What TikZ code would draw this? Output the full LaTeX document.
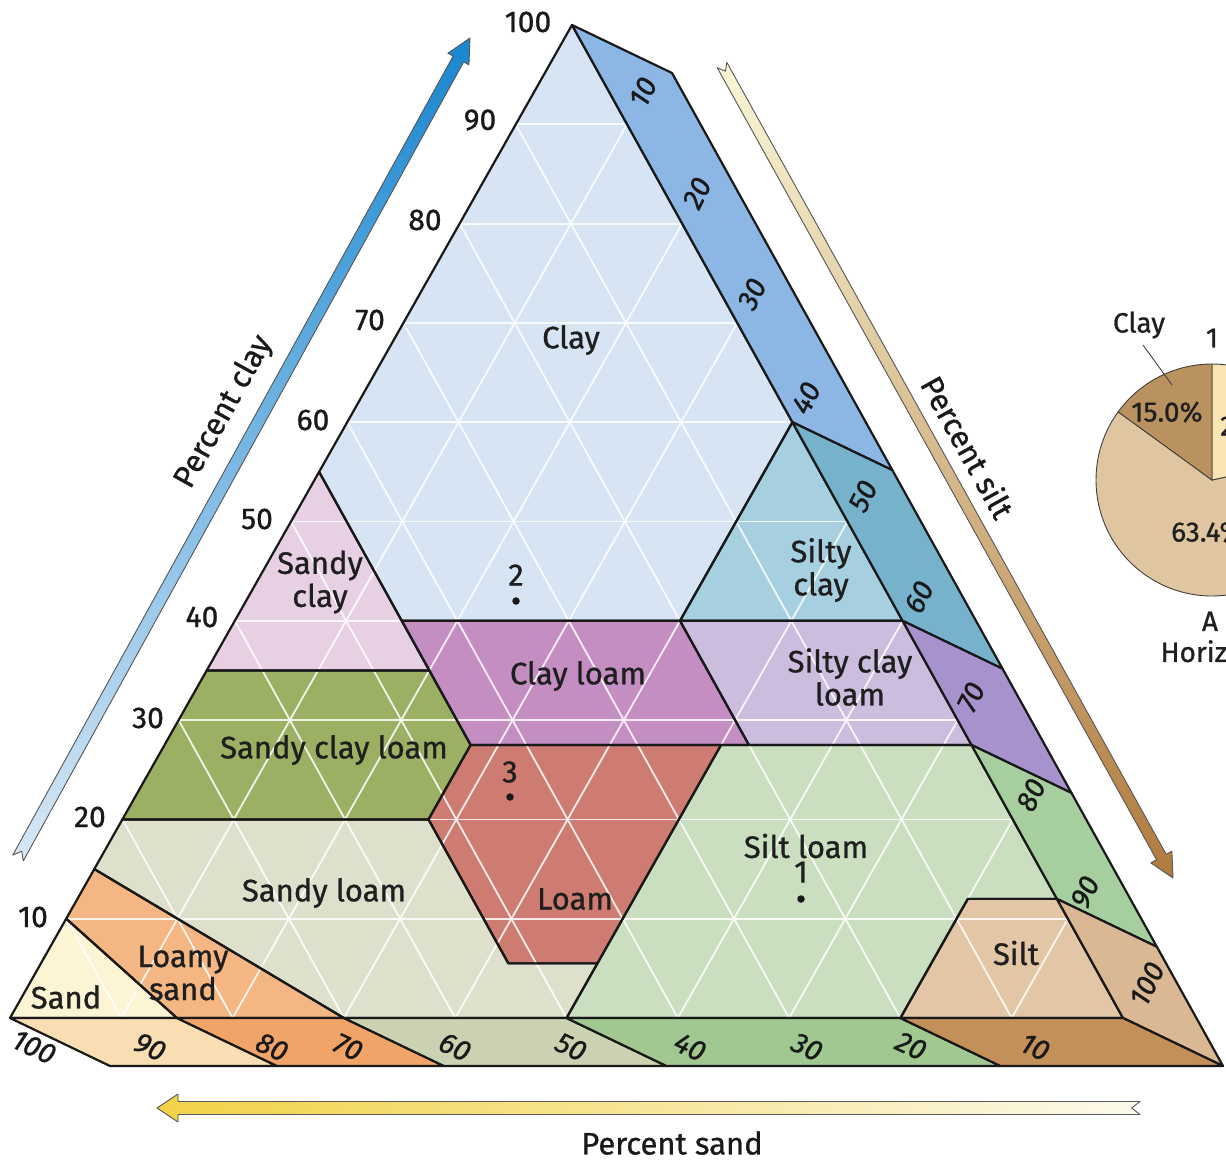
\documentclass[tikz,border=0pt]{standalone}
\usepackage{fontspec}
\setmainfont{Fira Sans}[FakeBold=0.9]
% region fills
\definecolor{cClay}{RGB}{214,228,244}
\definecolor{cSandyClay}{RGB}{232,208,228}
\definecolor{cSiltyClay}{RGB}{166,208,224}
\definecolor{cClayLoam}{RGB}{196,142,194}
\definecolor{cSiltyClayLoam}{RGB}{204,188,222}
\definecolor{cSandyClayLoam}{RGB}{156,176,100}
\definecolor{cLoam}{RGB}{206,124,114}
\definecolor{cSiltLoam}{RGB}{202,222,192}
\definecolor{cSandyLoam}{RGB}{222,224,204}
\definecolor{cLoamySand}{RGB}{244,182,130}
\definecolor{cSand}{RGB}{253,244,212}
\definecolor{cSilt}{RGB}{226,198,166}
% right (silt) strip
\definecolor{sClay}{RGB}{140,182,228}
\definecolor{sSiltyClay}{RGB}{118,178,204}
\definecolor{sSCL}{RGB}{168,146,206}
\definecolor{sSiltLoam}{RGB}{166,206,158}
\definecolor{sSilt}{RGB}{218,184,148}
% bottom (sand) strip
\definecolor{bSand}{RGB}{248,222,178}
\definecolor{bLoamySand}{RGB}{240,164,104}
\definecolor{bSandyLoam}{RGB}{202,210,178}
\definecolor{bSiltLoam}{RGB}{160,200,144}
\definecolor{bSilt}{RGB}{196,144,90}
% pie
\definecolor{pClay}{RGB}{186,146,96}
\definecolor{pBig}{RGB}{224,198,160}
\definecolor{pRight}{RGB}{250,230,180}
% ternary point (clay, sand) in pixel coordinates, and the same shifted onto the extruded face
\newcommand\tpt[2]{({(#2)*0.1+(100-(#1)-(#2))*11.23+(#1)*5.72},{1018-9.93*(#1)})}
\newcommand\tpo[2]{({(#2)*0.1+(100-(#1)-(#2))*11.23+(#1)*5.72+100},{1018-9.93*(#1)+48})}
% fat arrow: tail x,y ; head x,y ; half shaft ; half head ; head length ; style
\newcommand\fatarrow[8]{%
  \pgfmathsetmacro\arlen{veclen((#3-#1)/100,(#4-#2)/100)*100}%
  \pgfmathsetmacro\arux{(#3-#1)/\arlen}%
  \pgfmathsetmacro\aruy{(#4-#2)/\arlen}%
  \pgfmathsetmacro\arnx{-\aruy}%
  \pgfmathsetmacro\arny{\arux}%
  \pgfmathsetmacro\arb{\arlen-#7}%
  \filldraw[#8] ({#1+#5*\arnx},{#2+#5*\arny})
    -- ({#1+\arb*\arux+#5*\arnx},{#2+\arb*\aruy+#5*\arny})
    -- ({#1+\arb*\arux+#6*\arnx},{#2+\arb*\aruy+#6*\arny})
    -- (#3,#4)
    -- ({#1+\arb*\arux-#6*\arnx},{#2+\arb*\aruy-#6*\arny})
    -- ({#1+\arb*\arux-#5*\arnx},{#2+\arb*\aruy-#5*\arny})
    -- ({#1-#5*\arnx},{#2-#5*\arny})
    -- ({#1+1.3*#5*\arux},{#2+1.3*#5*\aruy}) -- cycle;}
% region outlines
\newcommand\rgClay{\tpt{100}{0} -- \tpt{55}{45} -- \tpt{40}{45} -- \tpt{40}{20} -- \tpt{60}{0} -- cycle}
\newcommand\rgSandyClay{\tpt{55}{45} -- \tpt{35}{65} -- \tpt{35}{45} -- cycle}
\newcommand\rgSiltyClay{\tpt{60}{0} -- \tpt{40}{20} -- \tpt{40}{0} -- cycle}
\newcommand\rgClayLoam{\tpt{40}{45} -- \tpt{40}{20} -- \tpt{27.5}{20} -- \tpt{27.5}{45} -- cycle}
\newcommand\rgSiltyClayLoam{\tpt{40}{20} -- \tpt{40}{0} -- \tpt{27.5}{0} -- \tpt{27.5}{20} -- cycle}
\newcommand\rgSandyClayLoam{\tpt{35}{65} -- \tpt{35}{45} -- \tpt{27.5}{45} -- \tpt{20}{52.5} -- \tpt{20}{80} -- cycle}
\newcommand\rgLoam{\tpt{27.5}{45} -- \tpt{27.5}{22.5} -- \tpt{5.5}{44.5} -- \tpt{5.5}{52.5} -- \tpt{20}{52.5} -- cycle}
\newcommand\rgSiltLoam{\tpt{27.5}{22.5} -- \tpt{27.5}{0} -- \tpt{12}{0} -- \tpt{12}{8} -- \tpt{0}{20} -- \tpt{0}{50} -- \tpt{5.5}{44.5} -- cycle}
\newcommand\rgSilt{\tpt{12}{0} -- \tpt{0}{0} -- \tpt{0}{20} -- \tpt{12}{8} -- cycle}
\newcommand\rgSandyLoam{\tpt{20}{80} -- \tpt{20}{52.5} -- \tpt{5.5}{52.5} -- \tpt{5.5}{44.5} -- \tpt{0}{50} -- \tpt{0}{70} -- \tpt{15}{85} -- cycle}
\newcommand\rgLoamySand{\tpt{15}{85} -- \tpt{0}{70} -- \tpt{0}{85} -- \tpt{10}{90} -- cycle}
\newcommand\rgSand{\tpt{10}{90} -- \tpt{0}{85} -- \tpt{0}{100} -- cycle}
\begin{document}
\begin{tikzpicture}[x=1pt,y=-1pt,
  region/.style={draw=black!90, line width=2.2pt, line join=round},
  gridline/.style={white, line width=1.8pt, opacity=0.85},
  lab/.style={font=\fontsize{31}{33}\selectfont, text=black!88, align=center, inner sep=0pt},
  num/.style={font=\fontsize{30}{32}\selectfont, text=black!90, inner sep=0pt},
  snum/.style={num, font=\fontsize{29}{31}\selectfont\itshape, rotate=64},
  bnum/.style={num, font=\fontsize{29}{31}\selectfont\itshape, rotate=-25},
  title/.style={font=\fontsize{31}{33}\selectfont, text=black!90, inner sep=0pt},
  pietext/.style={font=\fontsize{28}{31}\selectfont, text=black!88, align=center, inner sep=0pt},
  sample/.style={circle, fill=black!90, inner sep=0pt, minimum size=7.5pt},
  arrowline/.style={draw=black!65, line width=0.9pt, line join=round}]
\useasboundingbox (0,0) rectangle (1226,1162);
\clip (0,0) rectangle (1226,1162);

% ---------- region fills ----------
\fill[cClay] \rgClay;
\fill[cSandyClay] \rgSandyClay;
\fill[cSiltyClay] \rgSiltyClay;
\fill[cClayLoam] \rgClayLoam;
\fill[cSiltyClayLoam] \rgSiltyClayLoam;
\fill[cSandyClayLoam] \rgSandyClayLoam;
\fill[cLoam] \rgLoam;
\fill[cSiltLoam] \rgSiltLoam;
\fill[cSilt] \rgSilt;
\fill[cSandyLoam] \rgSandyLoam;
\fill[cLoamySand] \rgLoamySand;
\fill[cSand] \rgSand;

% ---------- white grid ----------
\foreach \k in {10,20,...,90} {
  \draw[gridline] \tpt{\k}{100-\k} -- \tpt{\k}{0};
  \draw[gridline] \tpt{0}{\k} -- \tpt{100-\k}{\k};
  \draw[gridline] \tpt{0}{100-\k} -- \tpt{100-\k}{0};
}

% ---------- region boundaries ----------
\draw[region] \rgClay;
\draw[region] \rgSandyClay;
\draw[region] \rgSiltyClay;
\draw[region] \rgClayLoam;
\draw[region] \rgSiltyClayLoam;
\draw[region] \rgSandyClayLoam;
\draw[region] \rgLoam;
\draw[region] \rgSiltLoam;
\draw[region] \rgSilt;
\draw[region] \rgSandyLoam;
\draw[region] \rgLoamySand;
\draw[region] \rgSand;

% ---------- extruded scale strips ----------
\foreach \a/\b/\col in {100/60/sClay, 60/40/sSiltyClay, 40/27.5/sSCL, 27.5/12/sSiltLoam, 12/0/sSilt}
  \filldraw[fill=\col, region] \tpt{\a}{0} -- \tpt{\b}{0} -- \tpo{\b}{0} -- \tpo{\a}{0} -- cycle;
\foreach \a/\b/\col in {100/85/bSand, 85/70/bLoamySand, 70/50/bSandyLoam, 50/20/bSiltLoam, 20/0/bSilt}
  \filldraw[fill=\col, region] \tpt{0}{\a} -- \tpt{0}{\b} -- \tpo{0}{\b} -- \tpo{0}{\a} -- cycle;

% ---------- class labels ----------
\node[lab] (tClay) at (571,340) {Clay};
\node[lab] (tSandyClay) at (320,582) {Sandy\\clay};
\node[lab] (tSiltyClay) at (821,570) {Silty\\clay};
\node[lab] (tClayLoam) at (578,676) {Clay loam};
\node[lab] (tSiltyClayLoam) at (850,677) {Silty clay\\loam};
\node[lab] (tSandyClayLoam) at (334,750) {Sandy clay loam};
\node[lab] (tSiltLoam) at (806,846) {Silt loam};
\node[lab] (tSandyLoam) at (324,893) {Sandy loam};
\node[lab] (tLoam) at (575,899) {Loam};
\node[lab] (tLoamySand) at (183,973) {Loamy\\sand};
\node[lab] (tSand) at (66,997) {Sand};
\node[lab] (tSilt) at (1016,953) {Silt};

% ---------- samples ----------
\node[lab] (n2) at (516,575) {2};
\node[sample] (s2) at (516,601) {};
\node[lab] (n3) at (510,772) {3};
\node[sample] (s3) at (510,797) {};
\node[lab] (n1) at (801,872) {1};
\node[sample] (s1) at (801,899) {};

% ---------- clay scale ----------
\foreach \v/\px/\py in {100/528/22, 90/480/120, 80/425/220, 70/370/320, 60/313/420, 50/257/519, 40/202/617, 30/148/718, 20/90/817, 10/33/917}
  \node[num] (c\v) at (\px,\py) {\v};

% ---------- silt scale ----------
\foreach \v/\px/\py in {10/643/92, 20/697/193, 30/752/294, 40/806/398, 50/863/496, 60/919/597, 70/971/697, 80/1031/795, 90/1085/892, 100/1147/984}
  \node[snum] (t\v) at (\px,\py) {\v};

% ---------- sand scale ----------
\foreach \v/\px/\py in {100/34/1047, 90/150/1047, 80/272/1047, 70/348/1047, 60/455/1047, 50/571/1047, 40/690/1047, 30/807/1047, 20/911/1046, 10/1035/1047}
  \node[bnum] (b\v) at (\px,\py) {\v};

% ---------- axis arrows ----------
\fatarrow{18}{858}{470}{38}{6}{12}{24}{arrowline, top color={rgb,255:red,24;green,134;blue,208}, bottom color={rgb,255:red,216;green,232;blue,246}}
\fatarrow{722}{65}{1173}{878}{5.5}{12}{24}{arrowline, top color={rgb,255:red,250;green,246;blue,214}, bottom color={rgb,255:red,176;green,122;blue,62}}
\fatarrow{1140}{1108}{157}{1108}{6.5}{14}{21}{arrowline, left color={rgb,255:red,242;green,210;blue,70}, right color={rgb,255:red,252;green,250;blue,236}}

\node[title, rotate=61] (pClayT) at (224,412) {Percent clay};
\node[title, rotate=-61] (pSiltT) at (968,447) {Percent silt};
\node[title] (pSandT) at (672,1143) {Percent sand};

% ---------- pie chart ----------
\coordinate (pc) at (1212,480);
\filldraw[fill=pBig, draw=black!75, line width=0.9pt] (pc) -- ++(-144:116) arc[start angle=-144, end angle=-372.2, radius=116] -- cycle;
\filldraw[fill=pRight, draw=black!75, line width=0.9pt] (pc) -- ++(-12.2:116) arc[start angle=-12.2, end angle=-90, radius=116] -- cycle;
\filldraw[fill=pClay, draw=black!75, line width=0.9pt] (pc) -- ++(-90:116) arc[start angle=-90, end angle=-144, radius=116] -- cycle;
\node[pietext] (pct15) at (1167,412) {15.0\%};
\node[pietext, anchor=west] (pct63) at (1171,532) {63.4\%};
\node[pietext, anchor=west] (pct21) at (1220,426) {21.6\%};
\node[pietext] (pieClay) at (1139,325) {Clay};
\node[pietext] (pieOne) at (1212,338) {1};
\coordinate (leadEnd) at (1172,385);
\draw[black!75, line width=0.9pt] (1143,345) -- (leadEnd);
\node[pietext] (pieTitle) at (1210,637) {A\\Horizon};
\end{tikzpicture}
\end{document}
